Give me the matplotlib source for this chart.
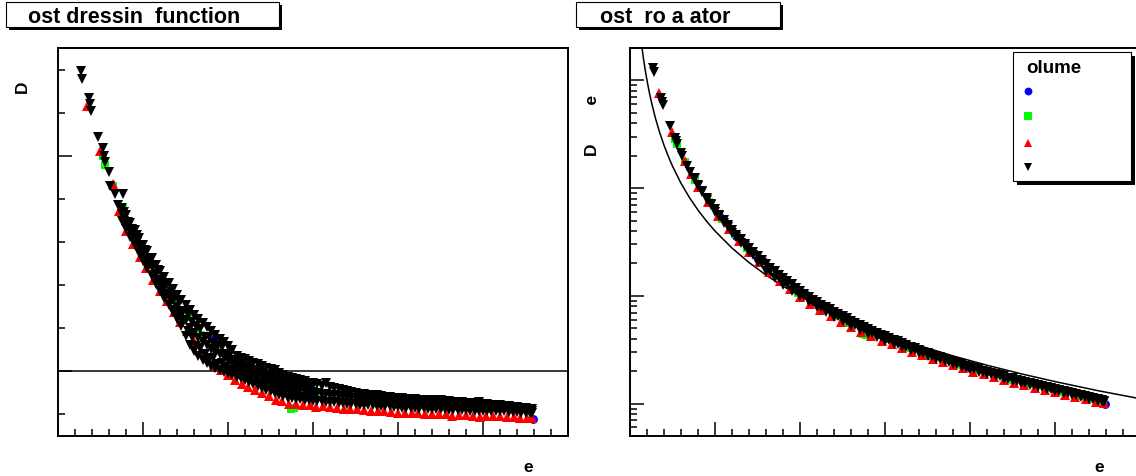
import matplotlib
matplotlib.use("Agg")
import matplotlib.pyplot as plt
from matplotlib.patches import Rectangle
from matplotlib.lines import Line2D
from matplotlib.ticker import MultipleLocator, FixedLocator, LogLocator, NullFormatter

plt.rcParams['font.family'] = ['Liberation Sans', 'DejaVu Sans']

# ---------------- data ----------------
title_left = "ost dressin  function"
title_right = "ost  ro a ator"
legend_title = "olume"
ylabel_left = "D"
ylabel_right = "D        e"
xlabel = "e"

# ghost dressing function, four lattice volumes
vol1_p = [1.06, 1.25, 1.51, 1.83, 2.14, 2.50, 3.00, 3.50, 4.00, 4.50, 5.00, 5.59]
vol1_J = [1.51, 1.41, 1.264, 1.148, 1.065, 0.955, 0.905, 0.872, 0.856, 0.843, 0.834, 0.777]

vol2_p = [0.53, 0.55, 0.65, 0.77, 0.93, 1.08, 1.23, 1.38, 1.53, 1.68, 1.83, 1.98, 2.13, 2.28,
          2.43, 2.58, 2.74, 2.78, 2.90, 3.10, 3.30, 3.50, 3.70, 3.90, 4.10, 4.30, 4.50, 4.70,
          4.90, 5.10, 5.30, 5.45, 5.57]
vol2_J = [1.997, 1.955, 1.86, 1.755, 1.61, 1.51, 1.41, 1.33, 1.25, 1.17, 1.10, 1.05, 1.01, 0.98,
          0.95, 0.93, 0.826, 0.83, 0.91, 0.90, 0.885, 0.872, 0.865, 0.858, 0.852, 0.847, 0.843, 0.839,
          0.835, 0.832, 0.828, 0.824, 0.824]

vol3_p = [0.341, 0.494, 0.647, 0.718, 0.80, 0.88, 0.96, 1.04, 1.12, 1.20, 1.28, 1.36, 1.44, 1.52,
          1.60, 1.68, 1.76, 1.84, 1.92, 2.00, 2.08, 2.16, 2.24, 2.32, 2.40, 2.48, 2.56, 2.64,
          2.72, 2.80, 2.88, 2.96, 3.04, 3.12, 3.20, 3.28, 3.36, 3.44, 3.52, 3.60, 3.68, 3.76,
          3.84, 3.92, 4.00, 4.08, 4.16, 4.24, 4.32, 4.40, 4.48, 4.56, 4.64, 4.72, 4.80, 4.88,
          4.96, 5.04, 5.12, 5.20, 5.28, 5.36, 5.44, 5.52, 5.58]
vol3_J = [2.229, 2.020, 1.867, 1.746, 1.649, 1.590, 1.531, 1.478, 1.424, 1.371, 1.324, 1.276, 1.229, 1.185,
          1.141, 1.098, 1.064, 1.031, 1.005, 0.981, 0.958, 0.943, 0.929, 0.915, 0.900, 0.886, 0.868, 0.862,
          0.850, 0.850, 0.846, 0.843, 0.836, 0.837, 0.835, 0.832, 0.826, 0.827, 0.824, 0.822, 0.816, 0.818,
          0.815, 0.813, 0.807, 0.809, 0.807, 0.806, 0.800, 0.803, 0.801, 0.800, 0.794, 0.797, 0.796, 0.795,
          0.790, 0.793, 0.792, 0.791, 0.786, 0.787, 0.785, 0.784, 0.782]

# largest volume: isolated low-momentum points ...
vol4_p_ir = [0.27, 0.28, 0.365, 0.376, 0.388, 0.471, 0.529, 0.541, 0.553, 0.600, 0.612, 0.671, 0.706, 0.765]
vol4_J_ir = [2.391, 2.358, 2.266, 2.238, 2.210, 2.089, 2.034, 1.997, 1.969, 1.927, 1.862, 1.825, 1.770, 1.825]
# ... and the dense band, several momentum orientations per momentum bin
vol4_p = [0.75, 0.80, 0.85, 0.90, 0.95, 1.00, 1.05, 1.10, 1.15, 1.20, 1.25, 1.30, 1.35, 1.40,
          1.45, 1.50, 1.55, 1.60, 1.65, 1.70, 1.75, 1.80, 1.85, 1.90, 1.95, 2.00, 2.05,
          2.10, 2.15, 2.20, 2.25, 2.30, 2.35, 2.40, 2.45, 2.50, 2.55, 2.60, 2.65, 2.70, 2.75,
          2.80, 2.85, 2.90, 2.95, 3.00, 3.05, 3.10, 3.15, 3.20, 3.25, 3.30, 3.35, 3.40, 3.45,
          3.50, 3.55, 3.60, 3.65, 3.70, 3.75, 3.80, 3.85, 3.90, 3.95, 4.00, 4.05, 4.10, 4.15,
          4.20, 4.25, 4.30, 4.35, 4.40, 4.45, 4.50, 4.55, 4.60, 4.65, 4.70, 4.75, 4.80, 4.85,
          4.90, 4.95, 5.00, 5.05, 5.10, 5.15, 5.20, 5.25, 5.30, 5.35, 5.40, 5.45, 5.50, 5.55, 5.58]
vol4_J_a = [1.760, 1.725, 1.689, 1.654, 1.619, 1.587, 1.557, 1.526, 1.495, 1.464, 1.437, 1.410, 1.383, 1.356,
            1.330, 1.307, 1.285, 1.263, 1.241, 1.222, 1.204, 1.187, 1.169, 1.152, 1.134, 1.116, 1.098,
            1.072, 1.064, 1.056, 1.048, 1.040, 1.033, 1.025, 1.017, 1.009, 1.006, 0.991, 0.982, 0.975, 0.969,
            0.964, 0.958, 0.953, 0.948, 0.944, 0.939, 0.934, 0.945, 0.926, 0.923, 0.919, 0.914, 0.909, 0.905,
            0.900, 0.896, 0.894, 0.891, 0.889, 0.892, 0.884, 0.882, 0.880, 0.878, 0.876, 0.874, 0.873, 0.872,
            0.871, 0.869, 0.868, 0.867, 0.866, 0.864, 0.868, 0.862, 0.861, 0.859, 0.858, 0.857, 0.855, 0.854,
            0.852, 0.856, 0.849, 0.847, 0.845, 0.844, 0.842, 0.840, 0.837, 0.835, 0.833, 0.830, 0.828, 0.825, 0.824]
vol4_J_b = [1.730, 1.693, 1.657, 1.621, 1.584, 1.550, 1.517, 1.484, 1.451, 1.418, 1.388, 1.358, 1.329, 1.300,
            1.270, 1.236, 1.203, 1.179, 1.156, 1.136, 1.121, 1.105, 1.092, 1.079, 1.066, 1.053, 1.040,
            1.024, 1.016, 1.008, 1.000, 0.991, 0.983, 0.975, 0.966, 0.958, 0.950, 0.941, 0.933, 0.927, 0.922,
            0.918, 0.914, 0.911, 0.907, 0.904, 0.901, 0.897, 0.895, 0.892, 0.889, 0.887, 0.884, 0.880, 0.877,
            0.874, 0.871, 0.870, 0.868, 0.866, 0.864, 0.862, 0.860, 0.858, 0.856, 0.855, 0.853, 0.852, 0.851,
            0.850, 0.849, 0.848, 0.847, 0.846, 0.845, 0.844, 0.842, 0.841, 0.840, 0.839, 0.838, 0.837, 0.836,
            0.835, 0.834, 0.833, 0.832, 0.831, 0.830, 0.829, 0.827, 0.825, 0.823, 0.821, 0.819, 0.817, 0.816, 0.815]
vol4_J_c = [1.699, 1.662, 1.624, 1.587, 1.549, 1.514, 1.478, 1.442, 1.407, 1.371, 1.339, 1.307, 1.275, 1.244,
            1.209, 1.165, 1.120, 1.095, 1.070, 1.051, 1.037, 1.023, 1.015, 1.007, 0.999, 0.991, 0.983,
            0.975, 0.967, 0.959, 0.951, 0.942, 0.933, 0.924, 0.915, 0.908, 0.900, 0.892, 0.884, 0.878, 0.875,
            0.873, 0.870, 0.868, 0.866, 0.864, 0.863, 0.861, 0.859, 0.858, 0.856, 0.855, 0.853, 0.847, 0.850,
            0.848, 0.846, 0.845, 0.844, 0.842, 0.841, 0.840, 0.838, 0.837, 0.835, 0.834, 0.832, 0.831, 0.831,
            0.830, 0.826, 0.828, 0.827, 0.826, 0.825, 0.824, 0.823, 0.822, 0.821, 0.820, 0.820, 0.819, 0.818,
            0.818, 0.817, 0.814, 0.816, 0.816, 0.816, 0.815, 0.814, 0.812, 0.811, 0.810, 0.808, 0.807, 0.806, 0.805]
# extra orientations in the wide low/intermediate-momentum part of the band
vol4_p2 = [0.775, 0.825, 0.875, 0.925, 0.975, 1.025, 1.075, 1.125, 1.175, 1.225, 1.275, 1.325, 1.375, 1.425,
           1.475, 1.525, 1.575, 1.625, 1.675, 1.725, 1.775, 1.825, 1.875, 1.925, 1.975, 2.025, 2.075,
           2.125, 2.175, 2.225, 2.275, 2.325, 2.375, 2.425, 2.475, 2.525, 2.575, 2.625, 2.675, 2.725,
           2.775, 2.825, 2.875, 2.925, 2.975]
vol4_J_d = [1.739, 1.693, 1.661, 1.634, 1.584, 1.563, 1.521, 1.493, 1.469, 1.423, 1.407, 1.368, 1.344, 1.324,
            1.282, 1.266, 1.228, 1.209, 1.195, 1.161, 1.157, 1.130, 1.119, 1.112, 1.082, 1.079, 1.053,
            1.044, 1.044, 1.022, 1.026, 1.008, 1.004, 1.004, 0.982, 0.986, 0.970, 0.962, 0.962, 0.941,
            0.948, 0.933, 0.932, 0.936, 0.918]
vol4_J_e = [1.699, 1.674, 1.623, 1.598, 1.555, 1.516, 1.494, 1.445, 1.423, 1.383, 1.348, 1.329, 1.284, 1.266,
            1.228, 1.185, 1.158, 1.119, 1.107, 1.082, 1.063, 1.060, 1.036, 1.037, 1.021, 1.006, 1.008,
            0.990, 0.994, 0.980, 0.968, 0.971, 0.948, 0.952, 0.937, 0.925, 0.929, 0.907, 0.911, 0.899,
            0.891, 0.900, 0.882, 0.892, 0.883]

# ghost propagator, same volumes
vol1_pp = [1.06, 1.25, 1.51, 1.83, 2.14, 2.50, 3.00, 3.50, 4.00, 4.50, 5.00, 5.59]
vol1_D = [53.8, 36.1, 22.2, 13.7, 9.30, 6.11, 4.02, 2.85, 2.14, 1.665, 1.334, 0.995]

vol2_pp = [0.53, 0.55, 0.65, 0.77, 0.93, 1.08, 1.23, 1.38, 1.53, 1.68, 1.83, 1.98, 2.13, 2.28,
           2.43, 2.58, 2.74, 2.78, 2.90, 3.10, 3.30, 3.50, 3.70, 3.90, 4.10, 4.30, 4.50, 4.70,
           4.90, 5.10, 5.30, 5.45, 5.57]
vol2_D = [284.4, 258.5, 176.1, 118.4, 74.5, 51.8, 37.3, 27.9, 21.4, 16.6, 13.1, 10.7, 8.90, 7.54,
          6.44, 5.59, 4.40, 4.30, 4.33, 3.75, 3.25, 2.85, 2.53, 2.26, 2.03, 1.83, 1.665, 1.519,
          1.391, 1.280, 1.179, 1.110, 1.062]

vol3_pp = [0.341, 0.494, 0.647, 0.718, 0.80, 0.92, 1.04, 1.16, 1.28, 1.40, 1.52, 1.64, 1.76, 1.88,
           2.00, 2.12, 2.24, 2.36, 2.48, 2.60, 2.72, 2.84, 2.96, 3.08, 3.20, 3.32, 3.44, 3.56,
           3.68, 3.80, 3.92, 4.04, 4.16, 4.28, 4.40, 4.52, 4.64, 4.76, 4.88, 5.00, 5.12, 5.24,
           5.36, 5.48, 5.58]
vol3_D = [766.7, 331.1, 178.4, 135.5, 103.1, 73.7, 54.7, 41.5, 32.3, 25.6, 20.5, 16.64, 13.74, 11.52,
          9.81, 8.46, 7.41, 6.51, 5.76, 5.14, 4.62, 4.21, 3.85, 3.54, 3.26, 3.02, 2.80, 2.60,
          2.42, 2.26, 2.12, 1.985, 1.865, 1.758, 1.659, 1.567, 1.483, 1.406, 1.336, 1.270, 1.209, 1.151,
          1.096, 1.045, 1.005]

vol4_pp = [0.27, 0.28, 0.365, 0.376, 0.388, 0.471, 0.529, 0.541, 0.553, 0.600, 0.612, 0.671, 0.706, 0.765,
           0.75, 0.80, 0.85, 0.90, 0.95, 1.00, 1.05, 1.10, 1.15, 1.20, 1.25, 1.30, 1.35, 1.40,
           1.45, 1.50, 1.55, 1.60, 1.65, 1.70, 1.75, 1.80, 1.85, 1.90, 1.95, 2.00, 2.05,
           2.10, 2.15, 2.20, 2.25, 2.30, 2.35, 2.40, 2.45, 2.50, 2.55, 2.60, 2.65, 2.70, 2.75,
           2.80, 2.85, 2.90, 2.95, 3.00, 3.05, 3.10, 3.15, 3.20, 3.25, 3.30, 3.35, 3.40, 3.45,
           3.50, 3.55, 3.60, 3.65, 3.70, 3.75, 3.80, 3.85, 3.90, 3.95, 4.00, 4.05, 4.10, 4.15,
           4.20, 4.25, 4.30, 4.35, 4.40, 4.45, 4.50, 4.55, 4.60, 4.65, 4.70, 4.75, 4.80, 4.85,
           4.90, 4.95, 5.00, 5.05, 5.10, 5.15, 5.20, 5.25, 5.30, 5.35, 5.40, 5.45, 5.50, 5.55, 5.58]
vol4_D = [1311, 1204, 680, 633, 587, 376.7, 290.8, 272.9, 257.6, 214.1, 198.9, 162.1, 142.0, 124.7,
          123.0, 107.8, 91.7, 78.4, 70.2, 63.5, 55.1, 47.7, 43.9, 40.7, 35.5, 30.9, 29.2, 27.7,
          24.2, 20.7, 20.0, 19.7, 17.0, 14.5, 14.6, 14.65, 12.76, 11.16, 11.21, 11.16, 9.90,
          8.84, 8.78, 8.73, 7.90, 7.12, 7.12, 7.12, 6.44, 5.81, 5.84, 5.86, 5.31, 4.82, 4.88,
          4.92, 4.50, 4.13, 4.17, 4.20, 3.87, 3.58, 3.61, 3.62, 3.37, 3.14, 3.15, 3.15, 2.95,
          2.77, 2.76, 2.76, 2.60, 2.46, 2.456, 2.45, 2.321, 2.20, 2.196, 2.19, 2.080, 1.98, 1.976,
          1.97, 1.880, 1.79, 1.790, 1.79, 1.706, 1.63, 1.628, 1.63, 1.554, 1.49, 1.486, 1.49, 1.422,
          1.36, 1.362, 1.36, 1.305, 1.255, 1.251, 1.246, 1.200, 1.157, 1.150, 1.142, 1.103, 1.067, 1.059, 1.058]
# second orientation of the largest volume, on the band momenta vol4_p
vol4_D2 = [125.2, 103.9, 93.5, 81.7, 71.8, 60.56, 56.5, 50.4, 45.2, 38.1,
           36.8, 33.4, 30.4, 25.4, 25.3, 23.2, 21.4, 17.1, 18.2, 16.9,
           15.7, 12.6, 13.7, 12.76, 11.93, 9.91, 10.45, 9.72, 9.21, 7.93,
           8.28, 7.86, 7.48, 6.42, 6.78, 6.46, 6.19, 5.28, 5.59, 5.35,
           5.13, 4.45, 4.72, 4.53, 4.36, 3.84, 4.04, 3.89, 3.81, 3.35,
           3.50, 3.38, 3.26, 2.93, 3.04, 2.94, 2.84, 2.61, 2.68, 2.60,
           2.54, 2.33, 2.38, 2.31, 2.25, 2.085, 2.13, 2.077, 2.025, 1.882,
           1.924, 1.878, 1.833, 1.707, 1.745, 1.715, 1.666, 1.554, 1.589, 1.554,
           1.519, 1.422, 1.452, 1.419, 1.397, 1.302, 1.328, 1.300, 1.273, 1.206,
           1.219, 1.192, 1.167, 1.111, 1.118, 1.095, 1.071, 1.034]

# tree-level (free) propagator curve on the right panel
free_p = [0.14, 0.16, 0.18, 0.20, 0.23, 0.26, 0.30, 0.35, 0.40, 0.45, 0.50, 0.60, 0.70, 0.80,
          0.90, 1.0, 1.2, 1.4, 1.6, 1.8, 2.0, 2.3, 2.6, 3.0, 3.4, 3.8, 4.2, 4.6, 5.0, 5.5, 6.0]
free_D = [2040, 1563, 1235, 1000, 756, 592, 444, 327, 250, 198, 160, 111, 81.6, 62.5,
          49.4, 40.0, 27.8, 20.4, 15.6, 12.3, 10.0, 7.56, 5.92, 4.44, 3.46, 2.77, 2.27, 1.89, 1.60, 1.32, 1.11]

# reference line on the left panel
unit_level = 1.0

series_style = [
    dict(color=(0, 0, 1), marker='o', ms=6.4),
    dict(color=(0, 1, 0), marker='s', ms=6.4),
    dict(color=(1, 0, 0), marker='^', ms=7.2),
    dict(color=(0, 0, 0), marker='v', ms=7.2),
]

# ---------------- figure ----------------
W, H = 1136, 477
fig = plt.figure(figsize=(W / 100, H / 100), dpi=100)
fig.patch.set_facecolor('white')


def ax_rect(x0, y0, x1, y1):
    return [x0 / W, 1 - y1 / H, (x1 - x0) / W, (y1 - y0) / H]


axL = fig.add_axes(ax_rect(58, 49, 568, 437))
axR = fig.add_axes(ax_rect(630, 49, 1140, 437))


def draw(ax, xs, ys, st):
    ax.plot(xs, ys, linestyle='none', marker=st['marker'], ms=st['ms'],
            color=st['color'], mew=0)


left_sets = [
    [(vol1_p, vol1_J)],
    [(vol2_p, vol2_J)],
    [(vol3_p, vol3_J)],
    [(vol4_p_ir, vol4_J_ir), (vol4_p, vol4_J_a), (vol4_p, vol4_J_b), (vol4_p, vol4_J_c),
     (vol4_p2, vol4_J_d), (vol4_p2, vol4_J_e)],
]
right_sets = [
    [(vol1_pp, vol1_D)],
    [(vol2_pp, vol2_D)],
    [(vol3_pp, vol3_D)],
    [(vol4_pp, vol4_D), (vol4_p, vol4_D2)],
]

for sets, st in zip(left_sets, series_style):
    for xs, ys in sets:
        draw(axL, xs, ys, st)
axL.axhline(unit_level, color='black', lw=1.1)

axR.plot(free_p, free_D, color='black', lw=1.1)
for sets, st in zip(right_sets, series_style):
    for xs, ys in sets:
        draw(axR, xs, ys, st)

for ax in (axL, axR):
    ax.set_xlim(0, 6)
    ax.xaxis.set_major_locator(MultipleLocator(1))
    ax.xaxis.set_minor_locator(MultipleLocator(0.2))
    for sp in ax.spines.values():
        sp.set_linewidth(1.4)
    ax.tick_params(which='both', direction='in', top=False, right=False,
                   labelbottom=False, labelleft=False, width=1.1, color='black')
    ax.tick_params(which='major', length=9.8)
    ax.tick_params(which='minor', length=4.9)

axL.set_ylim(0.7, 2.5)
axL.yaxis.set_major_locator(FixedLocator([1.0, 2.0]))
axL.yaxis.set_minor_locator(FixedLocator([0.8, 1.2, 1.4, 1.6, 1.8, 2.2, 2.4]))

axR.set_yscale('log')
axR.set_ylim(0.5, 2000)
axR.yaxis.set_major_locator(LogLocator(base=10, numticks=12))
axR.yaxis.set_minor_locator(LogLocator(base=10, subs=(2, 3, 4, 5, 6, 7, 8, 9), numticks=12))
axR.yaxis.set_minor_formatter(NullFormatter())
axR.tick_params(labelleft=False)

lab_font = dict(fontsize=12.5, fontweight='bold')
axL.set_ylabel(ylabel_left, rotation=90, ha='center', va='baseline', **lab_font)
axL.yaxis.set_label_coords((27 - 58) / 510, (437 - 87) / 388)
axR.set_ylabel(ylabel_right, rotation=90, ha='center', va='baseline', **lab_font)
axR.yaxis.set_label_coords((597 - 630) / 510, (437 - 125) / 388)

axL.set_xlabel(xlabel, ha='center', va='baseline', **lab_font)
axL.xaxis.set_label_coords((528 - 58) / 510, (437 - 472) / 388)
axR.set_xlabel(xlabel, ha='center', va='baseline', **lab_font)
axR.xaxis.set_label_coords((1099.5 - 630) / 510, (437 - 472) / 388)


def px_box(x0, y0, x1, y1, **kw):
    return Rectangle((x0 / W, 1 - y1 / H), (x1 - x0) / W, (y1 - y0) / H,
                     transform=fig.transFigure, **kw)


# title boxes with ROOT-like shadow
for (x0, x1, tx, txt) in [(6, 279, 28, title_left), (576, 780, 600, title_right)]:
    fig.add_artist(px_box(x0 + 3, 6, x1 + 3, 31, facecolor='black', edgecolor='none', zorder=5))
    fig.add_artist(px_box(x0, 3, x1, 28, facecolor='white', edgecolor='black', lw=0.8, zorder=6))
    fig.text(tx / W, 1 - 22.7 / H, txt, fontsize=15.5, fontweight='bold',
             ha='left', va='baseline', zorder=7)

# legend box
fig.add_artist(px_box(1017, 57, 1135, 186, facecolor='black', edgecolor='none', zorder=5))
fig.add_artist(px_box(1013, 53, 1131, 182, facecolor='white', edgecolor='black', lw=0.8, zorder=6))
fig.text(1026.7 / W, 1 - 73.3 / H, legend_title, fontsize=13.5, fontweight='bold',
         ha='left', va='baseline', zorder=7)
for yy, st in zip([91.7, 117.3, 144.3, 168.3], series_style):
    fig.add_artist(Line2D([1027.7 / W], [1 - yy / H], transform=fig.transFigure,
                          linestyle='none', marker=st['marker'], ms=5.6,
                          color=st['color'], mew=0, zorder=7))

fig.savefig('out.png', dpi=100, facecolor='white')
